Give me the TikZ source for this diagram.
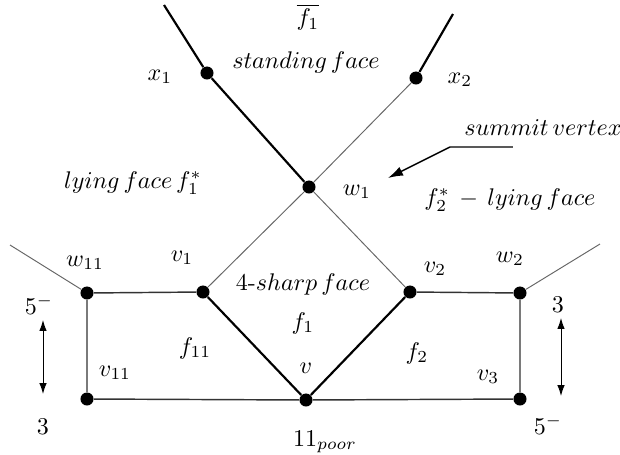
\documentclass[tikz,border=0pt]{standalone}
\usepackage{amsmath,amssymb}
\usetikzlibrary{arrows.meta}
\tikzset{vtx/.style={circle,fill=black,inner sep=0pt,minimum size=0.19cm},
heavy/.style={line width=0.9pt,black},
light/.style={line width=0.4pt,black!60},
edge/.style={line width=0.6pt,black!80},
twoway/.style={{Latex[length=1.6mm,width=1.1mm]}-{Latex[length=1.6mm,width=1.1mm]},thin},
lab/.style={inner sep=1pt}}
\begin{document}
\begin{tikzpicture}[x=0.0146cm,y=-0.0146cm]
\useasboundingbox (0,0) rectangle (620,455);
\coordinate (tl) at (164,5);
\coordinate (tr) at (453,14);
\coordinate (ol) at (10,245);
\coordinate (or) at (600,244);
\node[vtx] (x1) at (207,73) {};
\node[vtx] (x2) at (416,78) {};
\node[vtx] (w1) at (309,187) {};
\node[vtx] (v1) at (203,292) {};
\node[vtx] (v2) at (410,292) {};
\node[vtx] (w11) at (87,293) {};
\node[vtx] (w2) at (520,293) {};
\node[vtx] (v11) at (87,399) {};
\node[vtx] (v) at (306,400) {};
\node[vtx] (v3) at (520,399) {};
\draw[heavy] (tl)--(x1)--(w1);
\draw[heavy] (x2)--(tr);
\draw[light] (x2)--(w1)--(v1);
\draw[light] (w1)--(v2);
\draw[light] (w11)--(ol);
\draw[light] (w2)--(or);
\draw[heavy] (v1)--(v)--(v2);
\draw[edge] (v1)--(w11)--(v11)--(v)--(v3)--(w2)--(v2);
\node[lab] (f1bar) at (308,17) {$\overline{f_1}$};
\node[lab] (stand) at (306,62) {$standing\,face$};
\node[lab] (lx1) at (160,77) {$x_1$};
\node[lab] (lx2) at (460,80) {$x_2$};
\node[lab] (summit) at (543,128) {$summit\,vertex$};
\coordinate (sa) at (513,147);
\coordinate (sb) at (450,147);
\coordinate (sc) at (388,178);
\draw[-{Latex[length=2.2mm,width=1.4mm]},line width=0.6pt,black] (sa)--(sb)--(sc);
\node[lab] (lie1) at (133,183) {$lying\,face\,f_1^*$};
\node[lab] (lw1) at (357,192) {$w_1$};
\node[lab] (lie2) at (510,200) {$f_2^*\,-\,lying\,face$};
\node[lab] (lw11) at (85,263) {$w_{11}$};
\node[lab] (lv1) at (182,258) {$v_1$};
\node[lab] (sharp) at (303,284) {$4$-$sharp\,face$};
\node[lab] (lv2) at (435,269) {$v_2$};
\node[lab] (lw2) at (510,259) {$w_2$};
\node[lab] (tl5) at (39,305) {$5^-$};
\node[lab] (tr3) at (558,305) {$3$};
\node[lab] (lf1) at (303,323) {$f_1$};
\node[lab] (lf11) at (195,348) {$f_{11}$};
\node[lab] (lf2) at (417,353) {$f_2$};
\node[lab] (lv) at (306,368) {$v$};
\node[lab] (lv11) at (115,373) {$v_{11}$};
\node[lab] (lv3) at (488,377) {$v_3$};
\node[lab] (bl3) at (43,427) {$3$};
\node[lab] (br5) at (548,425) {$5^-$};
\node[lab] (poor) at (325,442) {$11_{poor}$};
\coordinate (al1) at (43,320);
\coordinate (al2) at (43,394);
\coordinate (ar1) at (561,318);
\coordinate (ar2) at (561,396);
\draw[twoway] (al1)--(al2);
\draw[twoway] (ar1)--(ar2);
\end{tikzpicture}
\end{document}
